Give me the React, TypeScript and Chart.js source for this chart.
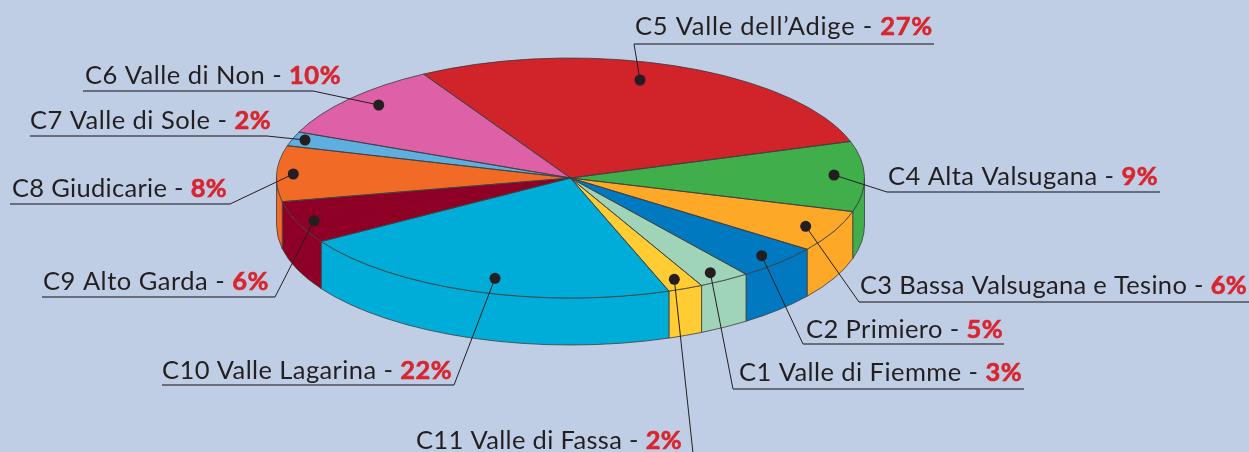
import React, { useEffect, useRef } from "react";
import { Chart, registerables } from "chart.js";

Chart.register(...registerables);

// Data
const zones = [
  "C5 Valle dell’Adige",
  "C4 Alta Valsugana",
  "C3 Bassa Valsugana e Tesino",
  "C2 Primiero",
  "C1 Valle di Fiemme",
  "C11 Valle di Fassa",
  "C10 Valle Lagarina",
  "C9 Alto Garda",
  "C8 Giudicarie",
  "C7 Valle di Sole",
  "C6 Valle di Non",
];
// Printed percentages
const printedPercent = [27, 9, 6, 5, 3, 2, 22, 6, 8, 2, 10];
// Slice sizes as they are drawn in the picture (they differ slightly from the printed ones)
const drawnShare = [28.4, 9.45, 5.6, 4.7, 2.83, 1.92, 21.55, 5.72, 7.5, 1.92, 10.41];
const sliceColors = [
  "#D0232A", "#3FAE4B", "#FDA827", "#0079C1", "#9FD4B8", "#FFCC33",
  "#00ADD8", "#8F0026", "#F26B26", "#5FAEE0", "#DE60A6",
];

// Annotation layout (same order as zones)
const textStart = [635, 888, 860, 806, 739, 416, 162, 43, 12, 30, 85];
const textEnd = [933, 1158, 1247, 1003, 1022, 682, 452, 269, 227, 271, 341];
const baseline = [35, 185, 294, 338, 381, 449, 379, 290, 197, 129, 84];
const underlines: (number[] | null)[] = [
  [634, 934, 44], [887, 1160, 192], [859, 1249, 302], [803, 1004, 344], [733, 1024, 389], null,
  [162, 454, 385], [42, 275, 297], [10, 230, 204], [30, 267, 136], [83, 313, 91],
];
const leaderEnd = [
  [634, 44], [887, 192], [859, 302], [803, 344], [733, 389], [693, 453],
  [454, 385], [275, 297], [230, 204], [267, 136], [313, 91],
];
const dots = [
  [640, 80], [834, 175], [805.7, 226.3], [761.7, 255.7], [710.3, 272.7], [674.3, 279.3],
  [495, 278.3], [314, 220.7], [293.3, 174], [305, 140], [378.7, 105],
];

const BG = "#BFCDE5";
const SQUASH = 120 / 294;
const DEPTH = 47;
const EDGE = "#3c3c3c";
const FONT = "Lato";
const SIZE = 25.5;

const pie3d = {
  id: "pie3d",
  beforeDatasetsDraw(chart: any) {
    const ctx = chart.ctx as CanvasRenderingContext2D;
    const arcs = chart.getDatasetMeta(0).data;
    ctx.save();
    arcs.forEach((arc: any, i: number) => {
      const { x, y, startAngle, endAngle, outerRadius } = arc;
      const a1 = Math.max(startAngle, 0);
      const a2 = Math.min(endAngle, Math.PI);
      if (a2 <= a1) return;
      const ry = outerRadius * SQUASH;
      ctx.beginPath();
      ctx.ellipse(x, y, outerRadius, ry, 0, a1, a2);
      ctx.ellipse(x, y + DEPTH, outerRadius, ry, 0, a2, a1, true);
      ctx.closePath();
      ctx.fillStyle = sliceColors[i];
      ctx.fill();
      ctx.strokeStyle = EDGE;
      ctx.lineWidth = 0.8;
      ctx.stroke();
    });
    ctx.restore();
    const a = arcs[0];
    ctx.save();
    ctx.translate(a.x, a.y);
    ctx.scale(1, SQUASH);
    ctx.translate(-a.x, -a.y);
  },
  afterDatasetsDraw(chart: any) {
    const ctx = chart.ctx as CanvasRenderingContext2D;
    ctx.restore();
    const arcs = chart.getDatasetMeta(0).data;
    ctx.save();
    arcs.forEach((arc: any) => {
      const { x, y, startAngle, endAngle, outerRadius } = arc;
      ctx.beginPath();
      ctx.moveTo(x, y);
      ctx.ellipse(x, y, outerRadius, outerRadius * SQUASH, 0, startAngle, endAngle);
      ctx.closePath();
      ctx.strokeStyle = EDGE;
      ctx.lineWidth = 0.8;
      ctx.stroke();
    });
    // leaders
    zones.forEach((_, i) => {
      ctx.beginPath();
      ctx.moveTo(dots[i][0], dots[i][1]);
      ctx.lineTo(leaderEnd[i][0], leaderEnd[i][1]);
      ctx.strokeStyle = "#231F20";
      ctx.lineWidth = 1;
      ctx.stroke();
      const u = underlines[i];
      if (u) {
        ctx.beginPath();
        ctx.moveTo(u[0], u[2]);
        ctx.lineTo(u[1], u[2]);
        ctx.strokeStyle = "#4c4d58";
        ctx.lineWidth = 1.3;
        ctx.stroke();
      }
      ctx.beginPath();
      ctx.arc(dots[i][0], dots[i][1], 5.5, 0, Math.PI * 2);
      ctx.fillStyle = "#231F20";
      ctx.fill();
    });
    // labels
    ctx.textBaseline = "alphabetic";
    ctx.textAlign = "left";
    zones.forEach((name, i) => {
      const plain = `${name} - `;
      const pct = `${printedPercent[i]}%`;
      const c = ctx as any;
      c.letterSpacing = "0px";
      ctx.font = `${SIZE}px ${FONT}`;
      const w1 = ctx.measureText(plain).width;
      ctx.font = `bold ${SIZE}px ${FONT}`;
      const w2 = ctx.measureText(pct).width;
      const sp = (textEnd[i] - textStart[i] - w1 - w2) / (plain.length + pct.length);
      c.letterSpacing = `${sp}px`;
      ctx.font = `${SIZE}px ${FONT}`;
      ctx.fillStyle = "#231F20";
      ctx.fillText(plain, textStart[i], baseline[i]);
      const adv = w1 + sp * plain.length;
      ctx.font = `bold ${SIZE}px ${FONT}`;
      ctx.fillStyle = "#D9252E";
      ctx.strokeStyle = "#D9252E";
      ctx.lineWidth = 0.6;
      ctx.fillText(pct, textStart[i] + adv, baseline[i]);
      ctx.strokeText(pct, textStart[i] + adv, baseline[i]);
    });
    ctx.restore();
  },
};

export default function App() {
  const ref = useRef<HTMLCanvasElement>(null);
  useEffect(() => {
    const chart = new Chart(ref.current!, {
      type: "pie",
      plugins: [pie3d],
      data: {
        labels: zones,
        datasets: [
          {
            data: drawnShare,
            backgroundColor: sliceColors,
            borderWidth: 0,
            radius: 294,
            clip: false,
          } as any,
        ],
      },
      options: {
        responsive: false,
        animation: false,
        rotation: -30,
        layout: { padding: { top: 0, left: 0, right: 108, bottom: 96 } },
        events: [],
        plugins: { legend: { display: false }, tooltip: { enabled: false }, title: { display: false } },
      },
    } as any);
    return () => chart.destroy();
  }, []);
  return (
    <div style={{ position: "fixed", left: 0, top: 0, width: 1249, height: 452, background: BG, overflow: "hidden" }}>
      <canvas ref={ref} width={1249} height={452} style={{ display: "block" }} />
    </div>
  );
}
